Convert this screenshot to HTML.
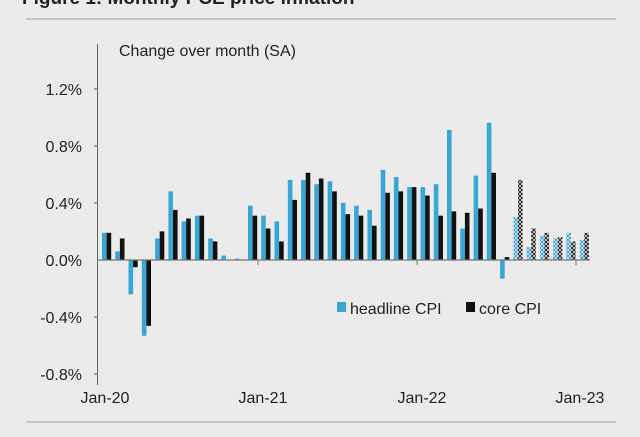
<!DOCTYPE html>
<html><head><style>
body{margin:0;background:#ebebeb;}
svg{display:block;font-family:"Liberation Sans",sans-serif;}
</style></head><body>
<svg width="640" height="437" viewBox="0 0 640 437" xmlns="http://www.w3.org/2000/svg">
<defs>
<pattern id="hb" width="4" height="4" patternUnits="userSpaceOnUse"><rect width="4" height="4" fill="#ebebeb"/><path d="M0 0L4 4M4 0L0 4" stroke="#3aa6d6" stroke-width="1"/></pattern>
<pattern id="hk" width="4" height="4" patternUnits="userSpaceOnUse"><rect width="4" height="4" fill="#ebebeb"/><path d="M0 0L4 4M4 0L0 4" stroke="#222" stroke-width="1"/></pattern>
</defs>
<rect width="640" height="437" fill="#ebebeb"/>
<text x="22" y="4" font-size="19" font-weight="bold" fill="#222">Figure 1: Monthly PCE price inflation</text>
<line x1="26" y1="19" x2="616" y2="19" stroke="#c8c8c8" stroke-width="2"/>
<line x1="26" y1="422" x2="616" y2="422" stroke="#c8c8c8" stroke-width="2"/>
<text x="119" y="56" font-size="16" fill="#222">Change over month (SA)</text>
<line x1="97.5" y1="44" x2="97.5" y2="385" stroke="#666" stroke-width="1"/>
<g stroke="#666"><line x1="94" y1="89" x2="97" y2="89"/><line x1="94" y1="146" x2="97" y2="146"/><line x1="94" y1="203" x2="97" y2="203"/><line x1="94" y1="317" x2="97" y2="317"/><line x1="94" y1="374" x2="97" y2="374"/></g>
<g font-size="16" fill="#222" text-anchor="end">
<text x="82" y="95">1.2%</text><text x="82" y="152">0.8%</text><text x="82" y="209">0.4%</text><text x="82" y="266">0.0%</text><text x="82" y="323">-0.4%</text><text x="82" y="380">-0.8%</text>
</g>
<g font-size="16" fill="#222" text-anchor="middle">
<text x="105" y="403">Jan-20</text><text x="263" y="403">Jan-21</text><text x="422" y="403">Jan-22</text><text x="580" y="403">Jan-23</text>
</g>
<g fill="#3aa6d6">
<rect x="102.0" y="232.8" width="4.6" height="27.2"/>
<rect x="115.3" y="251.4" width="4.6" height="8.6"/>
<rect x="128.5" y="260" width="4.6" height="34.3"/>
<rect x="141.8" y="260" width="4.6" height="75.8"/>
<rect x="155.1" y="238.5" width="4.6" height="21.5"/>
<rect x="168.4" y="191.4" width="4.6" height="68.6"/>
<rect x="181.6" y="221.4" width="4.6" height="38.6"/>
<rect x="194.9" y="215.7" width="4.6" height="44.3"/>
<rect x="208.2" y="238.5" width="4.6" height="21.5"/>
<rect x="221.4" y="255.7" width="4.6" height="4.3"/>
<rect x="234.7" y="258.6" width="4.6" height="1.4"/>
<rect x="248.0" y="205.7" width="4.6" height="54.3"/>
<rect x="261.2" y="215.7" width="4.6" height="44.3"/>
<rect x="274.5" y="221.4" width="4.6" height="38.6"/>
<rect x="287.8" y="179.9" width="4.6" height="80.1"/>
<rect x="301.1" y="179.9" width="4.6" height="80.1"/>
<rect x="314.3" y="184.2" width="4.6" height="75.8"/>
<rect x="327.6" y="181.3" width="4.6" height="78.7"/>
<rect x="340.9" y="202.8" width="4.6" height="57.2"/>
<rect x="354.1" y="205.7" width="4.6" height="54.3"/>
<rect x="367.4" y="209.9" width="4.6" height="50.1"/>
<rect x="380.7" y="169.9" width="4.6" height="90.1"/>
<rect x="393.9" y="177.1" width="4.6" height="82.9"/>
<rect x="407.2" y="187.1" width="4.6" height="72.9"/>
<rect x="420.5" y="187.1" width="4.6" height="72.9"/>
<rect x="433.8" y="184.2" width="4.6" height="75.8"/>
<rect x="447.0" y="129.9" width="4.6" height="130.1"/>
<rect x="460.3" y="228.5" width="4.6" height="31.5"/>
<rect x="473.6" y="175.6" width="4.6" height="84.4"/>
<rect x="486.8" y="122.7" width="4.6" height="137.3"/>
<rect x="500.1" y="260" width="4.6" height="18.6"/>
</g>
<g fill="#111">
<rect x="106.6" y="232.8" width="4.6" height="27.2"/>
<rect x="119.9" y="238.5" width="4.6" height="21.5"/>
<rect x="133.1" y="260" width="4.6" height="7.2"/>
<rect x="146.4" y="260" width="4.6" height="65.8"/>
<rect x="159.7" y="231.4" width="4.6" height="28.6"/>
<rect x="173.0" y="209.9" width="4.6" height="50.1"/>
<rect x="186.2" y="218.5" width="4.6" height="41.5"/>
<rect x="199.5" y="215.7" width="4.6" height="44.3"/>
<rect x="212.8" y="241.4" width="4.6" height="18.6"/>
<rect x="252.6" y="215.7" width="4.6" height="44.3"/>
<rect x="265.8" y="228.5" width="4.6" height="31.5"/>
<rect x="279.1" y="241.4" width="4.6" height="18.6"/>
<rect x="292.4" y="199.9" width="4.6" height="60.1"/>
<rect x="305.7" y="172.8" width="4.6" height="87.2"/>
<rect x="318.9" y="178.5" width="4.6" height="81.5"/>
<rect x="332.2" y="191.4" width="4.6" height="68.6"/>
<rect x="345.5" y="214.2" width="4.6" height="45.8"/>
<rect x="358.7" y="215.7" width="4.6" height="44.3"/>
<rect x="372.0" y="225.7" width="4.6" height="34.3"/>
<rect x="385.3" y="192.8" width="4.6" height="67.2"/>
<rect x="398.5" y="191.4" width="4.6" height="68.6"/>
<rect x="411.8" y="187.1" width="4.6" height="72.9"/>
<rect x="425.1" y="195.6" width="4.6" height="64.4"/>
<rect x="438.4" y="215.7" width="4.6" height="44.3"/>
<rect x="451.6" y="211.4" width="4.6" height="48.6"/>
<rect x="464.9" y="212.8" width="4.6" height="47.2"/>
<rect x="478.2" y="208.5" width="4.6" height="51.5"/>
<rect x="491.4" y="172.8" width="4.6" height="87.2"/>
<rect x="504.7" y="257.1" width="4.6" height="2.9"/>
</g>
<g fill="url(#hb)">
<rect x="513.4" y="217.1" width="4.6" height="42.9"/>
<rect x="526.6" y="247.1" width="4.6" height="12.9"/>
<rect x="539.9" y="235.7" width="4.6" height="24.3"/>
<rect x="553.2" y="238.5" width="4.6" height="21.5"/>
<rect x="566.4" y="232.8" width="4.6" height="27.2"/>
<rect x="579.7" y="240" width="4.6" height="20"/>
</g>
<g fill="url(#hk)">
<rect x="518.0" y="179.9" width="4.6" height="80.1"/>
<rect x="531.2" y="228.5" width="4.6" height="31.5"/>
<rect x="544.5" y="232.8" width="4.6" height="27.2"/>
<rect x="557.8" y="237.1" width="4.6" height="22.9"/>
<rect x="571.0" y="241.4" width="4.6" height="18.6"/>
<rect x="584.3" y="232.8" width="4.6" height="27.2"/>
</g>
<line x1="97" y1="260" x2="590" y2="260" stroke="#777" stroke-width="1.2"/>
<g stroke="#777"><line x1="258" y1="260" x2="258" y2="265"/><line x1="417" y1="260" x2="417" y2="265"/><line x1="576" y1="260" x2="576" y2="265"/></g>
<rect x="337" y="302" width="9" height="10" fill="#3aa6d6"/>
<text x="350" y="314" font-size="16" fill="#222">headline CPI</text>
<rect x="466" y="302" width="9" height="10" fill="#111"/>
<text x="479" y="314" font-size="16" fill="#222">core CPI</text>
</svg>
</body></html>
